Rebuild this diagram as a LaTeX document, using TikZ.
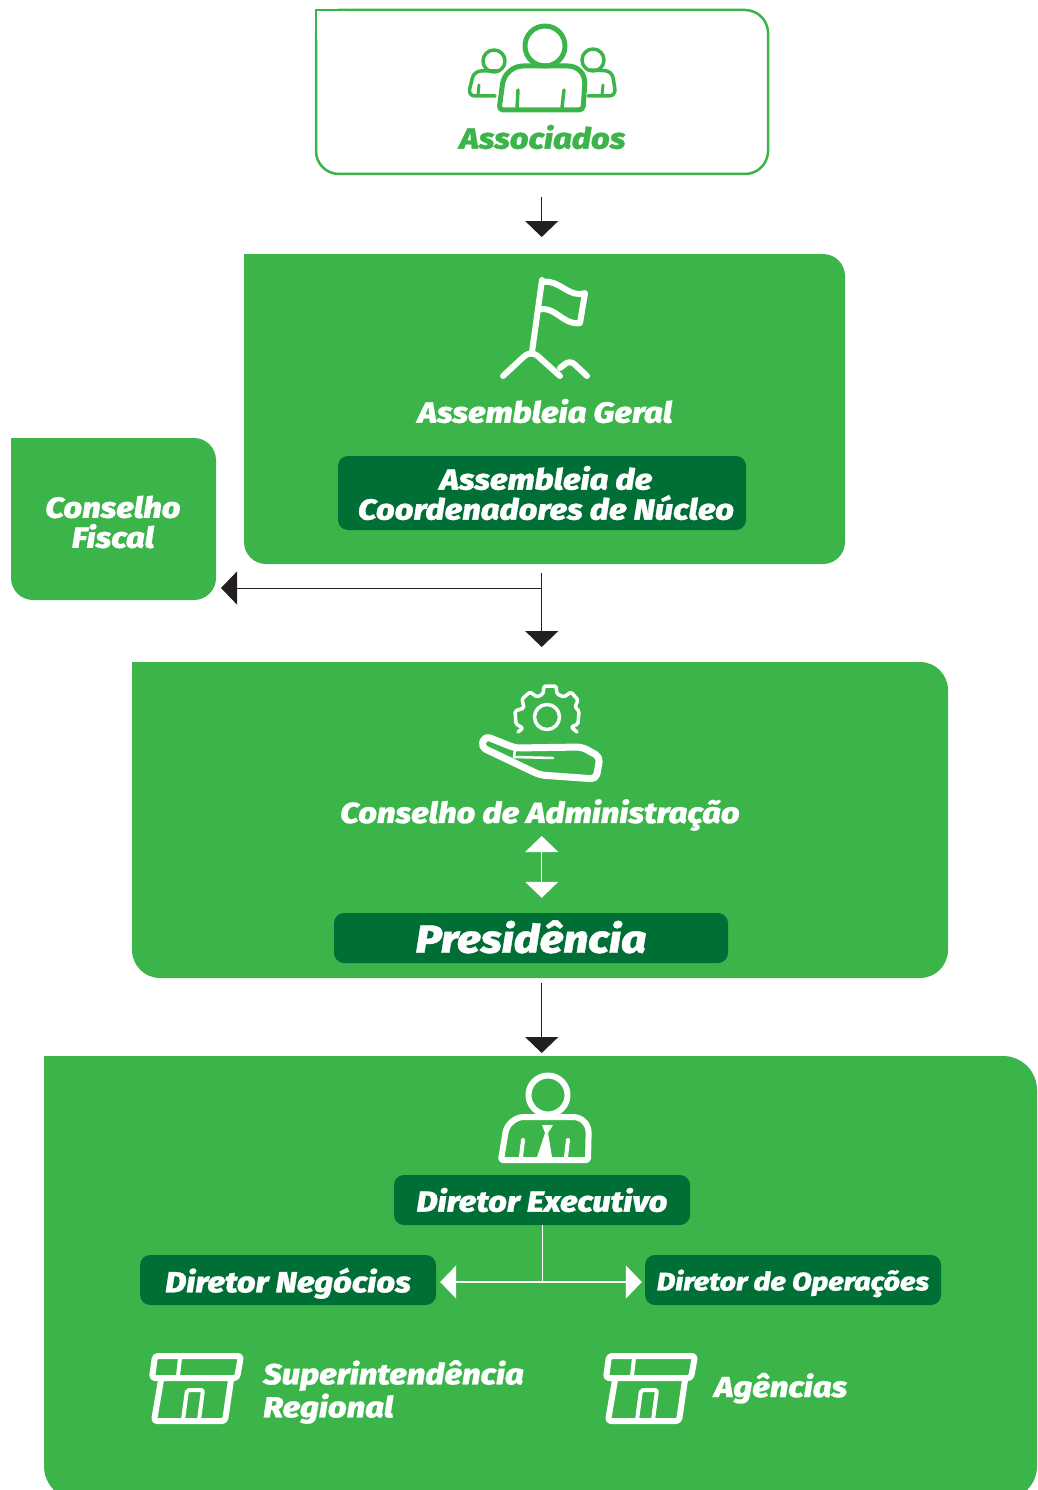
\documentclass[tikz,border=0pt]{standalone}
\usepackage{fontspec}
\setmainfont{Fira Sans}[BoldItalicFont={Fira Sans ExtraBold Italic},BoldItalicFeatures={FakeStretch=1.13,FakeBold=1}]
\usetikzlibrary{positioning,arrows.meta,calc}
\definecolor{lightgreen}{HTML}{3BB54A}
\definecolor{darkgreen}{HTML}{006F35}
\definecolor{arrowblack}{HTML}{231F20}
\tikzset{
    label text/.style={font=\bfseries\itshape\fontsize{29}{30}\selectfont, text=white, align=center, inner sep=0pt},
    green box/.style={fill=lightgreen, rounded corners=22pt, inner sep=0pt, outer sep=0pt},
    dark box/.style={label text, fill=darkgreen, rounded corners=10pt, minimum width=296pt, minimum height=50pt},
    connector/.style={draw=arrowblack, line width=1pt, -{Triangle[length=16pt,width=33pt]}},
    white arrow/.style={draw=white, line width=1.2pt, -{Triangle[length=16pt,width=33pt]}},
    icon/.style={draw=white, line width=6pt, line cap=round, line join=round},
}
\begin{document}
\begin{tikzpicture}[x=1pt,y=-1pt]
    \useasboundingbox (0,0) rectangle (1037,1490);
    \clip (0,0) rectangle (1037,1490);

    % boxes
    \node[draw=lightgreen, line width=2.5pt, fill=white, rounded corners=23pt, inner sep=0pt, outer sep=0pt, minimum width=452pt, minimum height=164pt] (associados) at (542,92) {};
    \fill[white] (associados.north west) rectangle +(30,30);
    \draw[draw=lightgreen, line width=2.5pt] (associados.west) |- (associados.north);
    \node[green box, minimum width=601pt, minimum height=310pt] (assembleia) at (544.5,409) {};
    \fill[lightgreen] (assembleia.north west) rectangle +(40,40);
    \node[green box, minimum width=205pt, minimum height=162pt] (fiscalbox) at (113.5,519) {};
    \fill[lightgreen] (fiscalbox.north west) rectangle +(40,40);
    \node[green box, rounded corners=28pt, minimum width=816pt, minimum height=316pt] (administracao) at (540,820) {};
    \fill[lightgreen] (administracao.north west) rectangle +(40,40);
    \node[green box, rounded corners=34pt, minimum width=993pt, minimum height=444pt] (diretoria) at (540.5,1278) {};
    \fill[lightgreen] (diretoria.north west) rectangle +(40,40);

    % labels
    \node[label text, text=lightgreen] (assocname) at (542.5,137) {Associados};
    \node[label text] (geral) at (545,411) {Assembleia Geral};
    \node[dark box, minimum width=408pt, minimum height=74pt] (nucleo) at (542,493) {\hspace*{8pt}Assembleia de\\\hspace*{8pt}Coordenadores de Núcleo};
    \node[label text] (fiscal) at (113,522) {Conselho\\Fiscal};
    \node[label text] (conselho) at (540,815) {Conselho de Administração};
    \node[dark box, minimum width=394pt, text depth=3pt, font=\bfseries\itshape\fontsize{39}{41}\selectfont] (presidencia) at (531,938) {Presidência};
    \node[dark box] (executivo) at (542,1200) {Diretor Executivo};
    \node[dark box, text depth=0pt] (negocios) at (288,1280) {Diretor Negócios};
    \node[dark box, text depth=0pt, font=\bfseries\itshape\fontsize{25.4}{27}\selectfont] (operacoes) at (793,1280) {Diretor de Operações};
    \node[label text, align=left, anchor=west, font=\bfseries\itshape\fontsize{29}{33}\selectfont] (regional) at (263,1392) {Superintendência\\Regional};
    \node[label text, anchor=west, text depth=0pt] (agencias) at (714,1385) {Agências};

    % connectors
    \coordinate (branch) at (541.7,588);
    \coordinate (admintop) at (541.7,836);
    \coordinate (split) at (542.5,1282);
    \draw[connector, shorten <=23pt, shorten >=17pt] (branch |- associados.south) -- (branch |- assembleia.north);
    \draw[connector, shorten <=9pt, shorten >=15pt] (branch |- assembleia.south) -- (branch |- administracao.north);
    \draw[connector, shorten >=5pt] (branch) -- (branch -| fiscalbox.east);
    \draw[connector, shorten <=5pt, shorten >=3pt] (branch |- administracao.south) -- (branch |- diretoria.north);
    \draw[white arrow, {Triangle[length=16pt,width=33pt]}-{Triangle[length=16pt,width=33pt]}, shorten >=15pt] (admintop) -- (admintop |- presidencia.north);
    \draw[draw=white, line width=1.2pt] (split |- executivo.south) -- (split);
    \draw[white arrow, shorten >=4pt] (split) -- (split -| negocios.east);
    \draw[white arrow, shorten >=3pt] (split) -- (split -| operacoes.west);

    % people icon
    \begin{scope}[icon, draw=lightgreen, line width=5pt]
        \draw (545,46) circle[radius=20];
        \draw[rounded corners=4pt] (499,110) [rounded corners=18pt] -- (505,66) -- (586,66) [rounded corners=4pt] -- (583,110) -- cycle;
        \draw[line width=3.5pt] (518,90) -- (517,108) (564,90) -- (562,108);
        \draw[line width=3.5pt] (494,61) circle[radius=11] (593,60) circle[radius=11];
        \draw[line width=3.5pt, rounded corners=7pt] (497,71) -- (474,71) -- (468,96) -- (495,96);
        \draw[line width=3.5pt, rounded corners=7pt] (590,70) -- (612,71) -- (616,96) -- (588,96);
        \draw[line width=3pt] (479,85) -- (478,95) (603,85) -- (602,95);
    \end{scope}

    % flag icon
    \begin{scope}[icon]
        \draw (542,280) -- (532,352);
        \draw (543,282) to[out=10,in=200] (585,293) -- (580,323) to[out=190,in=20] (538,310);
        \draw[rounded corners=9pt] (503,376) -- (531,350) -- (560,376);
        \draw[rounded corners=6pt] (560,368) -- (570,360) -- (587,376);
    \end{scope}

    % gear and hand icon
    \begin{scope}[icon]
        \draw[line width=3.5pt] (547,717) circle[radius=12.5];
        \draw[line width=3.5pt, rounded corners=1.5pt] (518,732) -- (523,728) -- (516,724) -- (515,711) -- (524,708) -- (522,699) -- (530,692) -- (537,697) -- (543,694) -- (544,686) -- (556,686) -- (557,694) -- (564,697) -- (571,692) -- (578,700) -- (575,707) -- (579,711) -- (578,724) -- (571,727) -- (577,732);
        \draw[line width=7pt, rounded corners=5pt] (485,736) -- (515,748) -- (582,747) -- (600,757) -- (596,779) -- (540,775) -- (481,747) -- cycle;
        \draw[line width=2.5pt] (515,750) -- (514,757) -- (553,758);
    \end{scope}

    % director icon
    \begin{scope}[icon]
        \draw (548,1095) circle[radius=19.5];
        \draw[rounded corners=2pt] (501,1160) [rounded corners=16pt] -- (508,1117) -- (589,1117) [rounded corners=2pt] -- (588,1160) -- cycle;
        \draw[line width=4pt] (523,1140) -- (521,1157) (568,1140) -- (566,1157);
        \fill[white] (542,1125) -- (553,1125) -- (548,1133) -- (552,1157) -- (537,1157) -- (545,1133) -- cycle;
    \end{scope}

    % store icons
    \foreach \sx in {0,454}{
        \begin{scope}[icon, xshift=\sx pt]
            \draw[rounded corners=3pt] (155,1356) -- (241,1356) -- (237,1378) -- (152,1378) -- cycle;
            \draw[line width=4pt] (180,1358) -- (178,1376);
            \draw[rounded corners=3pt] (161,1380) -- (154,1421) -- (225,1421) -- (231,1380);
            \draw[line width=4pt, rounded corners=2pt] (183,1420) -- (187,1390) -- (203,1390) -- (199,1420);
        \end{scope}
    }
\end{tikzpicture}
\end{document}
